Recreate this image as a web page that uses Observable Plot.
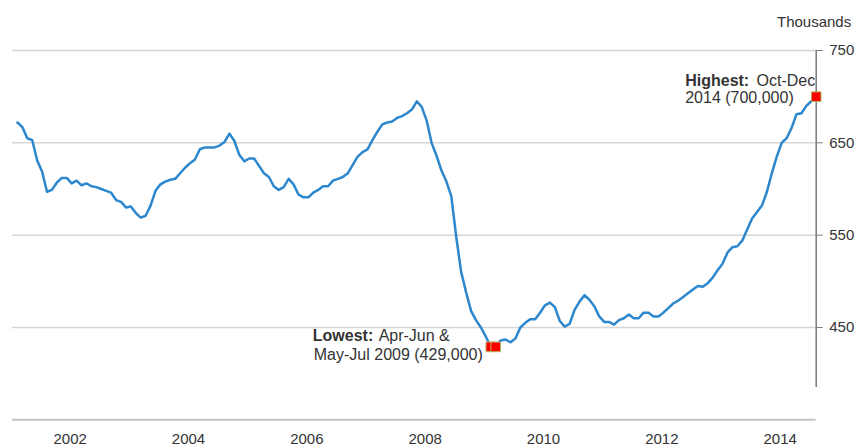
<!DOCTYPE html>
<html>
<head>
<meta charset="utf-8">
<script src="https://cdn.jsdelivr.net/npm/d3@7"></script>
<script src="https://cdn.jsdelivr.net/npm/@observablehq/plot@0.6"></script>
<style>
  html, body { margin: 0; padding: 0; background: #fff; }
  svg { display: block; }
</style>
</head>
<body>
<div id="chart"></div>
<script>
// Rolling three-month periods, first = Apr-Jun 2001, last = Oct-Dec 2014 (thousands)
const firstPeriod = "Apr-Jun 2001";
const values = [
  672, 667, 655, 653, 631, 619, 597, 599, 607, 612,
  612, 606, 609, 604, 606, 603, 602, 600, 598, 596,
  588, 586, 580, 581, 574, 569, 571, 582, 598, 605,
  608, 610, 611, 617, 623, 628, 632, 643, 645, 645,
  645, 647, 651, 660, 652, 637, 630, 633, 633, 625,
  617, 613, 603, 599, 602, 611, 605, 594, 591, 591,
  596, 599, 603, 603, 609, 611, 613, 617, 626, 635,
  640, 643, 653, 662, 670, 672, 673, 677, 679, 682,
  686, 695, 689, 674, 650, 636, 620, 608, 592, 548,
  510, 488, 468, 458, 450, 440, 429, 429, 436, 437,
  434, 438, 450, 455, 459, 459, 466, 474, 477, 472,
  457, 451, 454, 469, 478, 485, 480, 473, 462, 456,
  456, 453, 458, 460, 464, 460, 460, 466, 466, 462,
  462, 466, 471, 476, 479, 483, 487, 491, 495, 494,
  498, 504, 512, 519, 531, 537, 538, 544, 556, 568,
  575, 582, 597, 617, 635, 650, 655, 666, 681, 682,
  690, 695, 700
];
const yTicks = [450, 550, 650, 750];
const yearLabels = ["2002", "2004", "2006", "2008", "2010", "2012", "2014"];
const unitLabel = ["Thousands"];

// highlighted points (index into values)
const highPoints = [162];
const lowPoints = [96, 97];
const highText = { bold: "Highest:", rest: "Oct-Dec", line2: "2014 (700,000)" };
const lowText = { bold: "Lowest:", rest: "Apr-Jun &", line2: "May-Jul 2009 (429,000)" };

const data = values.map((v, i) => ({ i, v }));
const yearPos = (y) => (+y - 2001) * 12 - 1.3; // label position within the monthly index
const yearTicks = yearLabels.map(yearPos);

const hi = highPoints.map(i => ({ i, v: values[i] }));
const lo = lowPoints.map(i => ({ i, v: values[i] }));

const font = "'Liberation Sans', Arial, sans-serif";
const txt = "#333";

const chart = Plot.plot({
  width: 856,
  height: 446,
  marginLeft: 12,
  marginRight: 40.3,
  marginTop: 50,
  marginBottom: 26.7,
  x: { domain: [-1, values.length - 1], axis: null },
  y: { domain: [350, 750], axis: null },
  style: { fontFamily: font, fontSize: "15px", color: txt, background: "#fff" },
  marks: [
    Plot.ruleY(yTicks, { stroke: "#d6d6d6", strokeWidth: 1.5 }),
    Plot.ruleY([350], { stroke: "#c4c4c4", strokeWidth: 2 }),
    Plot.ruleX([values.length - 1], { y1: 385, y2: 750, stroke: "#7a7a7a", strokeWidth: 1.5 }),
    Plot.axisY({ anchor: "right", ticks: yTicks, tickSize: 6, tickPadding: 7, stroke: "#7a7a7a", label: null, fontSize: 15 }),
    Plot.axisX({ ticks: yearTicks, tickFormat: (d, k) => yearLabels[k], tickSize: 0, tickPadding: 14, label: null, fontSize: 15 }),
    Plot.text(unitLabel, { frameAnchor: "top-right", text: d => d, textAnchor: "end", lineAnchor: "middle", dx: 35, dy: -28, fontSize: 15, fill: txt }),
    Plot.line(data, { x: "i", y: "v", stroke: "#2d87cd", strokeWidth: 2.5, curve: "linear" }),
    Plot.dot(lo, { x: "i", y: "v", symbol: "square", r: 5.4, fill: "#ff0000", stroke: "#b8b25a", strokeWidth: 1 }),
    Plot.dot(hi, { x: "i", y: "v", symbol: "square", r: 5.4, fill: "#ff0000", stroke: "#b8b25a", strokeWidth: 1 }),
    // Highest annotation
    Plot.text(hi, { x: "i", y: "v", text: () => highText.bold, textAnchor: "start", lineAnchor: "middle", dx: -131, dy: -16, fontWeight: "bold", fontSize: 16, fill: txt }),
    Plot.text(hi, { x: "i", y: "v", text: () => highText.rest, textAnchor: "end", lineAnchor: "middle", dx: -1, dy: -16, fontSize: 16, fill: txt }),
    Plot.text(hi, { x: "i", y: "v", text: () => highText.line2, textAnchor: "start", lineAnchor: "middle", dx: -131, dy: 1, fontSize: 16, fill: txt }),
    // Lowest annotation
    Plot.text(lo.slice(0, 1), { x: "i", y: "v", text: () => lowText.bold, textAnchor: "start", lineAnchor: "middle", dx: -178, dy: -11, fontWeight: "bold", fontSize: 16, fill: txt }),
    Plot.text(lo.slice(0, 1), { x: "i", y: "v", text: () => lowText.rest, textAnchor: "end", lineAnchor: "middle", dx: -41, dy: -11, fontSize: 16, fill: txt }),
    Plot.text(lo.slice(0, 1), { x: "i", y: "v", text: () => lowText.line2, textAnchor: "end", lineAnchor: "middle", dx: -8, dy: 8, fontSize: 16, fill: txt })
  ]
});
document.getElementById("chart").appendChild(chart);
</script>
</body>
</html>
